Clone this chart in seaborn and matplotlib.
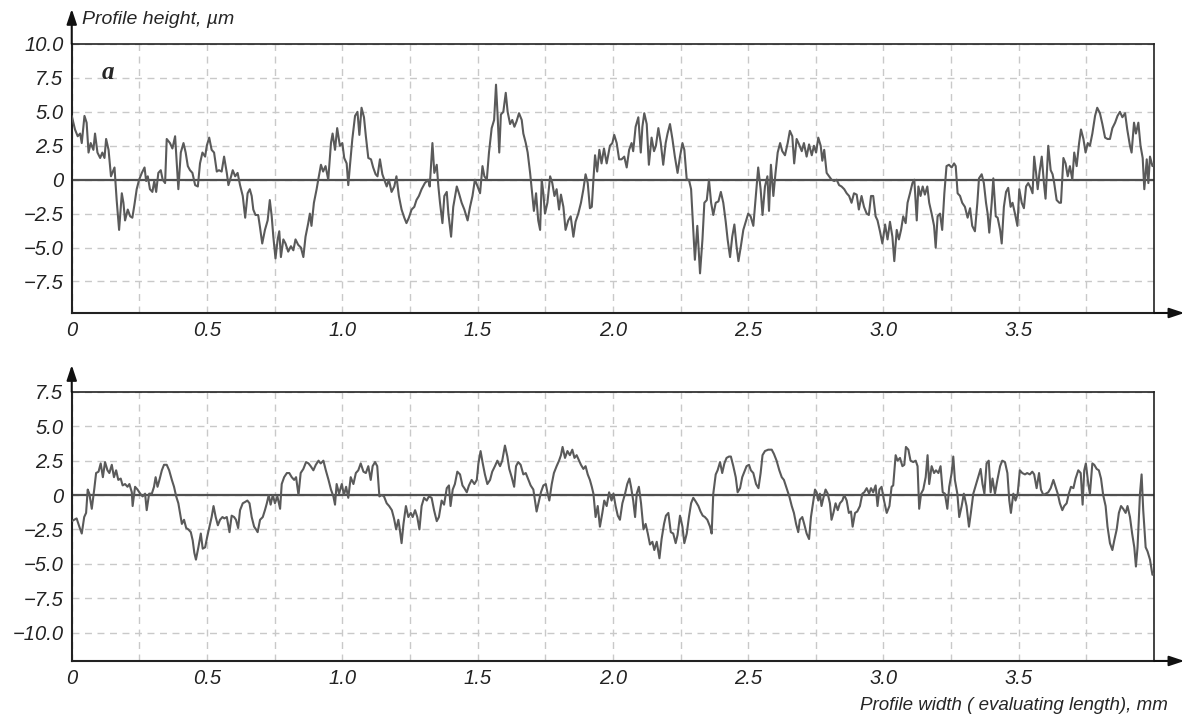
"""Surface roughness profiles: two evaluating-length traces, one above the other."""

import matplotlib
matplotlib.use("Agg")
import matplotlib.pyplot as plt
import numpy as np
import pandas as pd
import seaborn as sns
from matplotlib.ticker import MultipleLocator

# ── data: (position mm, height µm) ──
TOP_PROFILE = [
    (0.000, 4.7), (0.012, 3.7), (0.022, 3.2), (0.031, 3.4), (0.037, 2.7), (0.047, 4.7),
    (0.055, 4.2), (0.062, 2.0), (0.070, 2.7), (0.080, 2.2), (0.086, 3.4), (0.095, 2.0),
    (0.105, 1.6), (0.113, 2.0), (0.121, 1.6), (0.127, 3.0), (0.136, 2.2), (0.145, 0.25),
    (0.158, 0.9), (0.166, -1.5), (0.175, -3.7), (0.185, -1.0), (0.191, -1.7), (0.197, -3.0),
    (0.207, -2.2), (0.216, -2.7), (0.224, -2.8), (0.232, -1.8), (0.240, -0.7), (0.249, 0.0),
    (0.259, 0.5), (0.269, 0.9), (0.275, -0.1), (0.281, 0.25), (0.289, -0.7), (0.298, -0.9),
    (0.305, -0.1), (0.312, -0.9), (0.320, 0.5), (0.329, 0.7), (0.336, 0.0), (0.345, -0.25),
    (0.351, 3.0), (0.363, 2.7), (0.372, 2.3), (0.382, 3.2), (0.394, -0.7), (0.403, 2.0),
    (0.413, 2.7), (0.421, 2.0), (0.429, 1.0), (0.437, 0.7), (0.446, 0.5), (0.456, -0.4),
    (0.466, -0.5), (0.474, 1.2), (0.483, 2.0), (0.493, 1.7), (0.499, 2.5), (0.508, 3.1),
    (0.517, 2.2), (0.526, 2.0), (0.536, 0.6), (0.544, 0.7), (0.554, 0.6), (0.563, 1.7),
    (0.573, 0.5), (0.579, -0.4), (0.589, 0.25), (0.595, 0.7), (0.604, 0.25), (0.613, 0.5),
    (0.622, -0.4), (0.632, -1.2), (0.641, -2.8), (0.650, -1.0), (0.658, -0.7), (0.665, -1.2),
    (0.671, -2.2), (0.679, -2.6), (0.689, -2.6), (0.695, -3.4), (0.704, -4.7), (0.714, -3.7),
    (0.724, -3.0), (0.732, -1.5), (0.739, -2.7), (0.745, -4.2), (0.753, -5.8), (0.761, -4.4),
    (0.767, -3.8), (0.773, -5.7), (0.782, -4.4), (0.790, -4.7), (0.800, -5.3), (0.810, -4.9),
    (0.819, -5.2), (0.827, -4.4), (0.837, -4.8), (0.847, -5.0), (0.856, -5.7), (0.864, -4.2),
    (0.874, -3.2), (0.880, -2.5), (0.886, -3.4), (0.895, -1.7), (0.905, -0.7), (0.911, 0.0),
    (0.921, 1.1), (0.929, 0.6), (0.938, 1.0), (0.948, 0.0), (0.958, 2.7), (0.964, 3.4),
    (0.973, 2.2), (0.981, 3.8), (0.991, 2.5), (1.000, 2.7), (1.007, 1.6), (1.016, 1.2),
    (1.022, -0.4), (1.028, 1.0), (1.037, 3.0), (1.047, 4.7), (1.056, 5.0), (1.063, 3.3),
    (1.071, 5.3), (1.080, 4.6), (1.087, 3.2), (1.096, 1.6), (1.106, 1.5), (1.114, 0.9),
    (1.123, 0.4), (1.130, 0.25), (1.139, 1.5), (1.148, 0.4), (1.155, 0.0), (1.164, -0.5),
    (1.172, 0.0), (1.182, -0.9), (1.192, -0.5), (1.200, 0.25), (1.209, -1.2), (1.219, -2.2),
    (1.229, -2.8), (1.237, -3.2), (1.246, -2.8), (1.256, -2.2), (1.266, -2.0), (1.274, -1.5),
    (1.283, -1.2), (1.293, -0.7), (1.305, -0.25), (1.317, 0.0), (1.323, -0.5), (1.333, 2.7),
    (1.340, 0.5), (1.349, 1.1), (1.355, -0.5), (1.361, -1.7), (1.370, -3.2), (1.377, -1.2),
    (1.386, -0.9), (1.392, -2.5), (1.402, -4.2), (1.410, -2.0), (1.423, -0.5), (1.431, -1.0),
    (1.441, -1.7), (1.451, -2.2), (1.463, -3.0), (1.472, -2.0), (1.481, -1.2), (1.490, 0.0),
    (1.500, -0.5), (1.509, -1.0), (1.518, 1.0), (1.525, 0.25), (1.534, 0.0), (1.542, 2.0),
    (1.552, 3.8), (1.561, 4.4), (1.568, 7.0), (1.574, 4.7), (1.580, 2.0), (1.586, 4.8),
    (1.595, 5.0), (1.604, 6.4), (1.611, 5.0), (1.620, 4.1), (1.628, 4.4), (1.636, 3.9),
    (1.644, 4.3), (1.653, 4.9), (1.663, 4.4), (1.669, 3.4), (1.678, 2.7), (1.685, 2.0),
    (1.694, 0.5), (1.700, -0.7), (1.708, -2.3), (1.716, -1.0), (1.724, -3.0), (1.731, -3.7),
    (1.737, 0.0), (1.743, -1.0), (1.749, -2.5), (1.758, -1.7), (1.768, 0.25), (1.776, -0.25),
    (1.784, -1.2), (1.792, -0.7), (1.801, -2.2), (1.808, -1.1), (1.817, -2.0), (1.825, -3.7),
    (1.835, -3.0), (1.844, -2.7), (1.854, -4.2), (1.862, -3.1), (1.872, -2.5), (1.882, -1.7),
    (1.891, -0.7), (1.899, 0.4), (1.907, -0.25), (1.915, -2.1), (1.922, -2.0), (1.928, 0.0),
    (1.934, 1.8), (1.942, 0.6), (1.950, 2.2), (1.958, 1.2), (1.967, 2.3), (1.977, 1.2),
    (1.989, 2.5), (1.998, 2.7), (2.005, 3.3), (2.014, 2.7), (2.023, 1.5), (2.032, 1.5),
    (2.042, 1.7), (2.051, 0.9), (2.060, 2.2), (2.069, 2.7), (2.075, 2.1), (2.084, 3.9),
    (2.094, 4.6), (2.103, 2.0), (2.109, 3.9), (2.116, 4.9), (2.125, 4.1), (2.133, 1.1),
    (2.143, 3.1), (2.152, 2.1), (2.159, 2.5), (2.168, 3.8), (2.177, 2.7), (2.186, 1.1),
    (2.195, 2.7), (2.202, 3.4), (2.211, 4.1), (2.220, 3.0), (2.229, 1.7), (2.239, 0.5),
    (2.248, 1.7), (2.257, 2.7), (2.264, 2.2), (2.273, 0.0), (2.281, 0.0), (2.289, -0.7),
    (2.297, -3.7), (2.303, -5.9), (2.312, -3.4), (2.322, -6.9), (2.331, -4.4), (2.338, -1.7),
    (2.347, -1.5), (2.355, 0.0), (2.363, -1.7), (2.371, -2.6), (2.380, -1.7), (2.390, -1.6),
    (2.399, -0.9), (2.408, -1.7), (2.417, -3.1), (2.424, -4.4), (2.433, -5.7), (2.441, -4.2),
    (2.449, -3.3), (2.457, -4.9), (2.464, -6.0), (2.473, -4.9), (2.482, -3.7), (2.491, -3.1),
    (2.500, -2.5), (2.509, -2.7), (2.519, -3.4), (2.528, -1.2), (2.537, 0.9), (2.546, -0.7),
    (2.553, -2.6), (2.562, -0.5), (2.571, 0.25), (2.577, -2.3), (2.584, 1.1), (2.593, -1.2),
    (2.601, 0.5), (2.609, 2.0), (2.618, 2.7), (2.626, 2.1), (2.636, 1.8), (2.646, 2.7),
    (2.654, 3.6), (2.663, 3.2), (2.670, 1.2), (2.679, 3.0), (2.688, 2.6), (2.698, 2.1),
    (2.706, 2.7), (2.716, 1.7), (2.725, 2.6), (2.735, 1.8), (2.743, 2.5), (2.751, 2.0),
    (2.759, 3.1), (2.768, 2.5), (2.774, 1.4), (2.781, 2.2), (2.790, 0.5), (2.799, 0.25),
    (2.808, 0.0), (2.818, -0.1), (2.827, 0.0), (2.836, -0.4), (2.845, -0.5), (2.855, -0.7),
    (2.864, -1.0), (2.873, -1.2), (2.882, -1.7), (2.891, -1.0), (2.901, -1.1), (2.909, -2.2),
    (2.919, -1.2), (2.928, -2.0), (2.938, -2.5), (2.946, -2.6), (2.954, -1.2), (2.962, -1.2),
    (2.971, -2.7), (2.978, -3.0), (2.987, -3.8), (2.996, -4.7), (3.006, -3.3), (3.015, -4.4),
    (3.024, -3.1), (3.033, -4.2), (3.040, -6.0), (3.049, -3.7), (3.057, -4.4), (3.065, -3.7),
    (3.073, -2.7), (3.082, -3.2), (3.089, -1.7), (3.098, -1.0), (3.107, -0.25), (3.114, 0.0),
    (3.123, -3.0), (3.129, -0.5), (3.137, -1.2), (3.145, -0.5), (3.153, -1.1), (3.162, -0.5),
    (3.169, -1.7), (3.178, -2.5), (3.187, -3.4), (3.193, -5.0), (3.200, -2.7), (3.209, -2.5),
    (3.217, -3.7), (3.225, -1.0), (3.233, 1.0), (3.242, 1.1), (3.252, 0.9), (3.261, 1.2),
    (3.267, 1.0), (3.274, -1.0), (3.283, -1.2), (3.291, -1.7), (3.301, -2.0), (3.311, -2.8),
    (3.320, -2.1), (3.328, -3.4), (3.338, -3.8), (3.347, -1.7), (3.353, 0.1), (3.363, 0.4),
    (3.371, -0.25), (3.379, -1.7), (3.385, -2.5), (3.391, -3.9), (3.400, -1.7), (3.406, 0.1),
    (3.415, -2.7), (3.422, -2.8), (3.431, -3.7), (3.437, -4.7), (3.445, -2.0), (3.453, -0.9),
    (3.461, -0.6), (3.470, -2.0), (3.477, -1.7), (3.486, -2.5), (3.495, -3.4), (3.502, -0.7),
    (3.511, -1.7), (3.519, -2.1), (3.527, -0.5), (3.535, -0.25), (3.544, -0.6), (3.551, -1.0),
    (3.557, 1.7), (3.564, 0.5), (3.570, -0.7), (3.577, 0.6), (3.585, 1.7), (3.593, -0.25),
    (3.599, -1.4), (3.609, 2.5), (3.618, 0.7), (3.625, 0.4), (3.631, -0.25), (3.640, -1.5),
    (3.650, -1.7), (3.656, -1.7), (3.665, 1.6), (3.673, 1.2), (3.681, 0.25), (3.689, 1.0),
    (3.698, 0.0), (3.705, 2.0), (3.714, 1.0), (3.723, 2.7), (3.730, 3.7), (3.739, 3.0),
    (3.747, 2.0), (3.755, 2.7), (3.763, 2.5), (3.772, 3.4), (3.782, 4.7), (3.790, 5.3),
    (3.800, 4.9), (3.809, 4.1), (3.819, 3.1), (3.828, 3.0), (3.837, 3.0), (3.846, 3.8),
    (3.856, 4.2), (3.865, 4.7), (3.874, 5.0), (3.883, 4.6), (3.893, 4.9), (3.901, 3.7),
    (3.911, 2.5), (3.917, 2.0), (3.926, 4.2), (3.933, 3.4), (3.942, 4.2), (3.950, 2.5),
    (3.958, 1.6), (3.964, -0.7), (3.973, 1.5), (3.979, -0.25), (3.985, 1.7), (3.994, 1.0),
    (4.000, 1.2),
]

BOTTOM_PROFILE = [
    (0.000, -1.9), (0.009, -1.8), (0.018, -1.7), (0.028, -2.3), (0.037, -2.8), (0.046, -1.6),
    (0.053, -1.3), (0.059, 0.4), (0.065, 0.1), (0.074, -1.0), (0.083, 0.4), (0.090, 1.6),
    (0.099, 1.7), (0.107, 2.3), (0.115, 1.3), (0.123, 2.4), (0.132, 1.8), (0.139, 1.6),
    (0.148, 2.2), (0.156, 1.3), (0.164, 1.8), (0.172, 1.1), (0.181, 1.2), (0.188, 0.7),
    (0.197, 0.8), (0.206, 0.6), (0.213, 0.8), (0.222, 0.2), (0.225, -0.8), (0.234, 0.6),
    (0.243, 0.4), (0.253, 0.1), (0.262, -0.1), (0.271, 0.1), (0.277, -1.1), (0.286, 0.1),
    (0.296, 0.1), (0.304, 0.6), (0.310, 1.3), (0.317, 0.6), (0.324, 1.1), (0.333, 1.8),
    (0.341, 2.2), (0.351, 2.2), (0.360, 1.8), (0.370, 1.1), (0.378, 0.6), (0.386, -0.1),
    (0.394, -0.6), (0.400, -1.3), (0.407, -2.1), (0.415, -1.8), (0.423, -2.4), (0.431, -2.5),
    (0.440, -2.7), (0.447, -3.3), (0.453, -4.2), (0.459, -4.7), (0.468, -3.8), (0.477, -2.8),
    (0.484, -3.9), (0.493, -3.8), (0.501, -3.0), (0.509, -2.3), (0.517, -1.6), (0.524, -0.8),
    (0.532, -1.6), (0.540, -2.2), (0.548, -1.8), (0.557, -1.6), (0.564, -1.7), (0.573, -1.6),
    (0.583, -2.7), (0.591, -1.5), (0.600, -1.6), (0.607, -1.8), (0.615, -2.4), (0.622, -1.1),
    (0.632, -0.6), (0.641, -0.5), (0.649, -0.4), (0.657, -0.6), (0.665, -1.6), (0.674, -2.3),
    (0.681, -2.5), (0.687, -2.7), (0.696, -1.8), (0.706, -1.6), (0.714, -1.1), (0.721, -0.6),
    (0.728, 0.0), (0.735, -0.7), (0.743, 0.0), (0.751, -0.6), (0.760, -0.1), (0.770, -1.0),
    (0.776, 0.8), (0.785, 1.3), (0.795, 1.6), (0.804, 1.6), (0.813, 1.3), (0.822, 1.1),
    (0.829, 1.3), (0.838, 0.0), (0.846, 1.6), (0.856, 1.9), (0.866, 2.4), (0.875, 2.3),
    (0.883, 2.1), (0.893, 1.8), (0.902, 2.2), (0.912, 2.5), (0.920, 2.3), (0.930, 2.5),
    (0.939, 1.8), (0.949, 1.1), (0.958, 0.4), (0.967, -0.1), (0.973, -0.7), (0.979, 0.8),
    (0.988, 0.1), (0.998, 0.8), (1.006, 0.0), (1.014, 0.6), (1.022, -0.2), (1.031, 1.3),
    (1.041, 0.8), (1.050, 1.6), (1.059, 1.8), (1.068, 2.3), (1.078, 1.7), (1.087, 1.6),
    (1.096, 2.1), (1.105, 1.1), (1.112, 2.1), (1.121, 2.4), (1.129, 2.1), (1.137, -0.1),
    (1.146, 0.0), (1.154, -0.1), (1.164, -0.6), (1.173, -0.8), (1.183, -1.1), (1.191, -1.7),
    (1.199, -2.5), (1.207, -1.8), (1.211, -2.3), (1.219, -3.5), (1.226, -2.1), (1.235, -0.8),
    (1.244, -1.6), (1.253, -1.3), (1.260, -1.6), (1.269, -1.1), (1.277, -1.6), (1.285, -2.5),
    (1.293, -0.8), (1.302, -0.2), (1.312, -0.4), (1.320, -0.1), (1.330, -0.2), (1.339, -1.1),
    (1.349, -1.9), (1.357, -1.6), (1.367, -0.4), (1.376, -0.7), (1.386, 0.5), (1.394, 0.7),
    (1.400, -0.8), (1.408, 0.4), (1.416, 0.8), (1.425, 1.7), (1.435, 1.5), (1.444, 0.7),
    (1.451, 0.5), (1.460, 0.2), (1.468, 0.7), (1.478, 1.1), (1.488, 0.8), (1.497, 1.1),
    (1.503, 2.3), (1.511, 3.2), (1.519, 2.3), (1.527, 1.5), (1.536, 0.8), (1.546, 1.1),
    (1.554, 1.7), (1.564, 2.1), (1.573, 2.5), (1.583, 2.1), (1.591, 2.5), (1.601, 3.6),
    (1.610, 2.8), (1.617, 1.9), (1.626, 1.3), (1.635, 0.6), (1.642, 2.1), (1.650, 2.4),
    (1.659, 2.2), (1.669, 1.5), (1.678, 1.6), (1.688, 1.1), (1.696, 0.7), (1.706, 0.4),
    (1.712, -0.4), (1.718, -1.2), (1.727, -0.4), (1.734, 0.2), (1.743, 0.7), (1.752, 0.8),
    (1.759, 0.1), (1.765, -0.4), (1.774, 0.8), (1.782, 1.6), (1.792, 2.1), (1.801, 2.5),
    (1.808, 2.9), (1.814, 3.5), (1.823, 2.7), (1.832, 3.2), (1.841, 2.9), (1.850, 3.3),
    (1.858, 2.7), (1.866, 2.9), (1.875, 2.5), (1.882, 2.2), (1.891, 1.9), (1.899, 2.1),
    (1.907, 1.5), (1.915, 1.1), (1.922, 0.6), (1.928, 0.1), (1.936, -1.6), (1.944, -0.8),
    (1.952, -2.3), (1.961, -1.3), (1.968, -0.4), (1.977, -0.8), (1.986, 0.2), (1.995, -0.4),
    (2.002, 0.1), (2.010, -0.8), (2.018, -1.5), (2.026, -1.8), (2.035, -0.6), (2.045, 0.1),
    (2.053, 0.8), (2.061, 1.2), (2.067, 0.6), (2.075, -0.4), (2.082, -1.6), (2.088, 0.1),
    (2.096, 0.6), (2.104, -0.6), (2.113, -2.5), (2.121, -2.1), (2.129, -2.8), (2.137, -3.6),
    (2.146, -3.4), (2.153, -4.0), (2.162, -3.4), (2.172, -4.6), (2.180, -3.2), (2.189, -2.1),
    (2.196, -1.5), (2.205, -1.3), (2.214, -2.7), (2.223, -2.8), (2.232, -3.5), (2.239, -2.9),
    (2.248, -1.5), (2.257, -2.3), (2.264, -3.5), (2.273, -2.8), (2.281, -1.6), (2.289, -0.6),
    (2.297, -0.2), (2.307, -0.5), (2.316, -0.8), (2.324, -1.2), (2.332, -1.5), (2.340, -1.6),
    (2.349, -1.8), (2.359, -2.3), (2.365, -2.8), (2.371, 0.1), (2.380, 1.5), (2.387, 1.8),
    (2.396, 2.4), (2.404, 1.6), (2.412, 2.3), (2.420, 2.7), (2.429, 2.8), (2.436, 2.8),
    (2.445, 2.1), (2.454, 1.3), (2.461, 0.2), (2.470, 0.5), (2.478, 1.3), (2.486, 1.7),
    (2.494, 2.1), (2.503, 2.2), (2.510, 1.8), (2.519, 1.6), (2.529, 0.8), (2.538, 0.5),
    (2.546, 1.6), (2.553, 2.9), (2.562, 3.2), (2.574, 3.3), (2.587, 3.3), (2.595, 3.0),
    (2.605, 2.5), (2.615, 1.8), (2.624, 1.3), (2.632, 1.1), (2.642, 0.5), (2.652, -0.1),
    (2.661, -0.8), (2.669, -1.3), (2.677, -2.1), (2.685, -2.7), (2.691, -1.8), (2.700, -1.6),
    (2.707, -2.1), (2.716, -2.8), (2.725, -3.2), (2.732, -1.6), (2.741, -0.4), (2.747, 0.4),
    (2.753, 0.2), (2.759, -0.4), (2.765, 0.1), (2.771, -0.8), (2.778, -0.2), (2.786, 0.4),
    (2.794, 0.1), (2.802, -0.6), (2.808, -1.8), (2.815, -1.3), (2.823, -0.6), (2.831, -1.1),
    (2.839, -0.6), (2.848, -0.4), (2.855, 0.0), (2.864, -0.4), (2.872, -1.3), (2.880, -1.2),
    (2.886, -2.3), (2.895, -1.3), (2.903, -1.2), (2.913, -0.8), (2.922, 0.1), (2.929, 0.2),
    (2.938, 0.5), (2.947, 0.1), (2.954, 0.5), (2.962, 0.2), (2.971, 0.7), (2.978, -0.8),
    (2.985, 0.4), (2.993, 0.6), (3.002, -0.4), (3.012, -1.3), (3.022, -0.8), (3.030, 0.6),
    (3.036, 0.7), (3.045, 2.9), (3.052, 2.5), (3.061, 2.7), (3.070, 2.1), (3.077, 2.2),
    (3.083, 3.5), (3.092, 3.3), (3.100, 2.5), (3.110, 2.4), (3.119, 2.5), (3.126, 2.1),
    (3.132, -1.0), (3.139, 0.1), (3.147, 0.4), (3.156, 1.3), (3.163, 2.9), (3.169, 0.8),
    (3.178, 2.1), (3.187, 1.6), (3.194, 1.8), (3.203, 1.6), (3.211, 2.1), (3.219, 0.2),
    (3.227, 0.1), (3.236, -1.0), (3.243, 0.6), (3.252, 1.6), (3.258, 2.8), (3.264, 1.1),
    (3.273, 0.1), (3.280, -1.6), (3.289, -0.8), (3.297, 0.1), (3.307, -0.8), (3.316, -2.3),
    (3.323, -1.3), (3.332, 0.1), (3.341, 0.7), (3.350, 1.3), (3.359, 1.9), (3.366, 0.8),
    (3.373, 0.1), (3.381, 2.3), (3.389, 2.5), (3.396, 0.2), (3.403, 1.2), (3.412, 0.1),
    (3.421, 1.1), (3.431, 2.1), (3.439, 2.5), (3.449, 2.4), (3.458, 1.6), (3.465, -0.4),
    (3.471, -1.3), (3.480, 0.1), (3.488, -0.4), (3.496, 0.1), (3.504, 1.8), (3.513, 1.6),
    (3.523, 1.5), (3.531, 1.6), (3.541, 1.5), (3.550, 1.7), (3.557, 1.5), (3.566, 0.5),
    (3.575, 1.6), (3.582, 0.4), (3.591, 0.0), (3.600, 0.1), (3.609, 0.2), (3.618, 0.5),
    (3.628, 1.1), (3.636, 0.6), (3.644, 0.1), (3.652, -0.6), (3.661, -1.1), (3.668, -0.8),
    (3.677, -0.6), (3.685, 0.1), (3.693, 0.6), (3.702, 0.5), (3.710, 1.2), (3.720, 1.8),
    (3.729, 1.6), (3.736, -0.7), (3.742, 1.8), (3.748, 2.3), (3.757, 0.8), (3.763, 0.1),
    (3.772, 2.3), (3.779, 2.2), (3.788, 1.9), (3.796, 1.8), (3.804, 1.2), (3.812, 0.0),
    (3.821, -0.8), (3.828, -2.3), (3.837, -3.5), (3.846, -4.0), (3.853, -3.3), (3.862, -2.5),
    (3.870, -1.3), (3.878, -0.8), (3.886, -1.0), (3.895, -1.3), (3.902, -0.8), (3.911, -1.6),
    (3.919, -2.8), (3.927, -3.8), (3.933, -5.2), (3.939, -3.8), (3.948, 0.1), (3.954, 1.5),
    (3.960, -1.1), (3.969, -3.8), (3.976, -4.1), (3.985, -4.7), (3.994, -5.8), (4.000, -5.7),
]

X_TICKS = [0, 0.5, 1.0, 1.5, 2.0, 2.5, 3.0, 3.5]
TOP_Y_TICKS = [10.0, 7.5, 5.0, 2.5, 0.0, -2.5, -5.0, -7.5]
BOTTOM_Y_TICKS = [7.5, 5.0, 2.5, 0.0, -2.5, -5.0, -7.5, -10.0]

Y_LABEL = "Profile height, µm"
X_LABEL = "Profile width ( evaluating length), mm"

LINE_COLOR = "#5a5a5a"
GRID_COLOR = "#c9c9c9"

sns.set_style("white")
plt.rcParams["font.family"] = ["Liberation Sans", "DejaVu Sans"]


def tick_text(v):
    """0 -> '0', others with one decimal and a real minus sign"""
    if v == 0:
        return "0"
    return f"{v:.1f}".replace("-", "\u2212")


def draw_panel(ax, profile, yticks, ylim, arrow_up):
    df = pd.DataFrame(profile, columns=["x", "h"])

    ax.set_xlim(0, 4.0)
    ax.set_ylim(*ylim)

    # dashed grid: every 0.25 mm and every 2.5 µm
    ax.xaxis.set_minor_locator(MultipleLocator(0.25))
    grid_kw = dict(color=GRID_COLOR, linestyle=(0, (5, 4)), linewidth=1.0, zorder=0)
    ax.grid(False)
    ax.grid(True, which="both", axis="x", **grid_kw)
    ax.grid(True, which="major", axis="y", **grid_kw)
    ax.set_axisbelow(True)

    ax.axhline(0, color="#505050", linewidth=1.6, zorder=1.5)

    sns.lineplot(data=df, x="x", y="h", ax=ax, color=LINE_COLOR,
                 linewidth=1.5, estimator=None, sort=False, legend=False, zorder=3)
    ax.set_xlabel("")
    ax.set_ylabel("")

    ax.set_xticks(X_TICKS)
    ax.set_xticklabels([tick_text(v) for v in X_TICKS], fontstyle="italic", fontsize=14.5)
    ax.set_yticks(yticks)
    ax.set_yticklabels([tick_text(v) for v in yticks], fontstyle="italic", fontsize=14.5)
    ax.tick_params(axis="x", which="major", direction="in", length=5, width=1.2,
                   pad=6, colors="#222222")
    ax.tick_params(axis="x", which="minor", length=0)
    ax.tick_params(axis="y", which="major", direction="in", length=4, width=1.0,
                   pad=6, colors="#222222")

    for side, sp in ax.spines.items():
        sp.set_visible(True)
        sp.set_color("#222222")
        sp.set_linewidth(1.5 if side in ("left", "bottom") else 1.2)

    # axis arrows
    arrow = dict(arrowstyle="-|>,head_length=0.9,head_width=0.3", color="#111111",
                 lw=1.5, shrinkA=0, shrinkB=0)
    ax.annotate("", xy=(0, 1 + arrow_up), xytext=(0, 1), xycoords="axes fraction",
                arrowprops=arrow, annotation_clip=False)
    ax.annotate("", xy=(1.028, 0), xytext=(1, 0), xycoords="axes fraction",
                arrowprops=arrow, annotation_clip=False)


fig = plt.figure(figsize=(11.84, 7.23), dpi=100)
ax_top = fig.add_axes([0.0606, 0.5671, 0.9141, 0.3721])
ax_bot = fig.add_axes([0.0606, 0.0858, 0.9141, 0.3721])

draw_panel(ax_top, TOP_PROFILE, TOP_Y_TICKS, (-9.82, 10.0), 0.13)
draw_panel(ax_bot, BOTTOM_PROFILE, BOTTOM_Y_TICKS, (-12.07, 7.5), 0.10)

ax_top.text(0.0335, 0.895, "a", transform=ax_top.transAxes, ha="center", va="center",
            fontsize=18, fontweight="bold", fontstyle="italic",
            family=["Liberation Serif", "DejaVu Serif"])

fig.text(82 / 1184, 1 - 20 / 723, Y_LABEL, ha="left", va="center",
         fontsize=14, fontstyle="italic")
fig.text(1168 / 1184, 1 - 706 / 723, X_LABEL, ha="right", va="center",
         fontsize=13.5, fontstyle="italic")

plt.savefig("out.png", dpi=100)
plt.close()
